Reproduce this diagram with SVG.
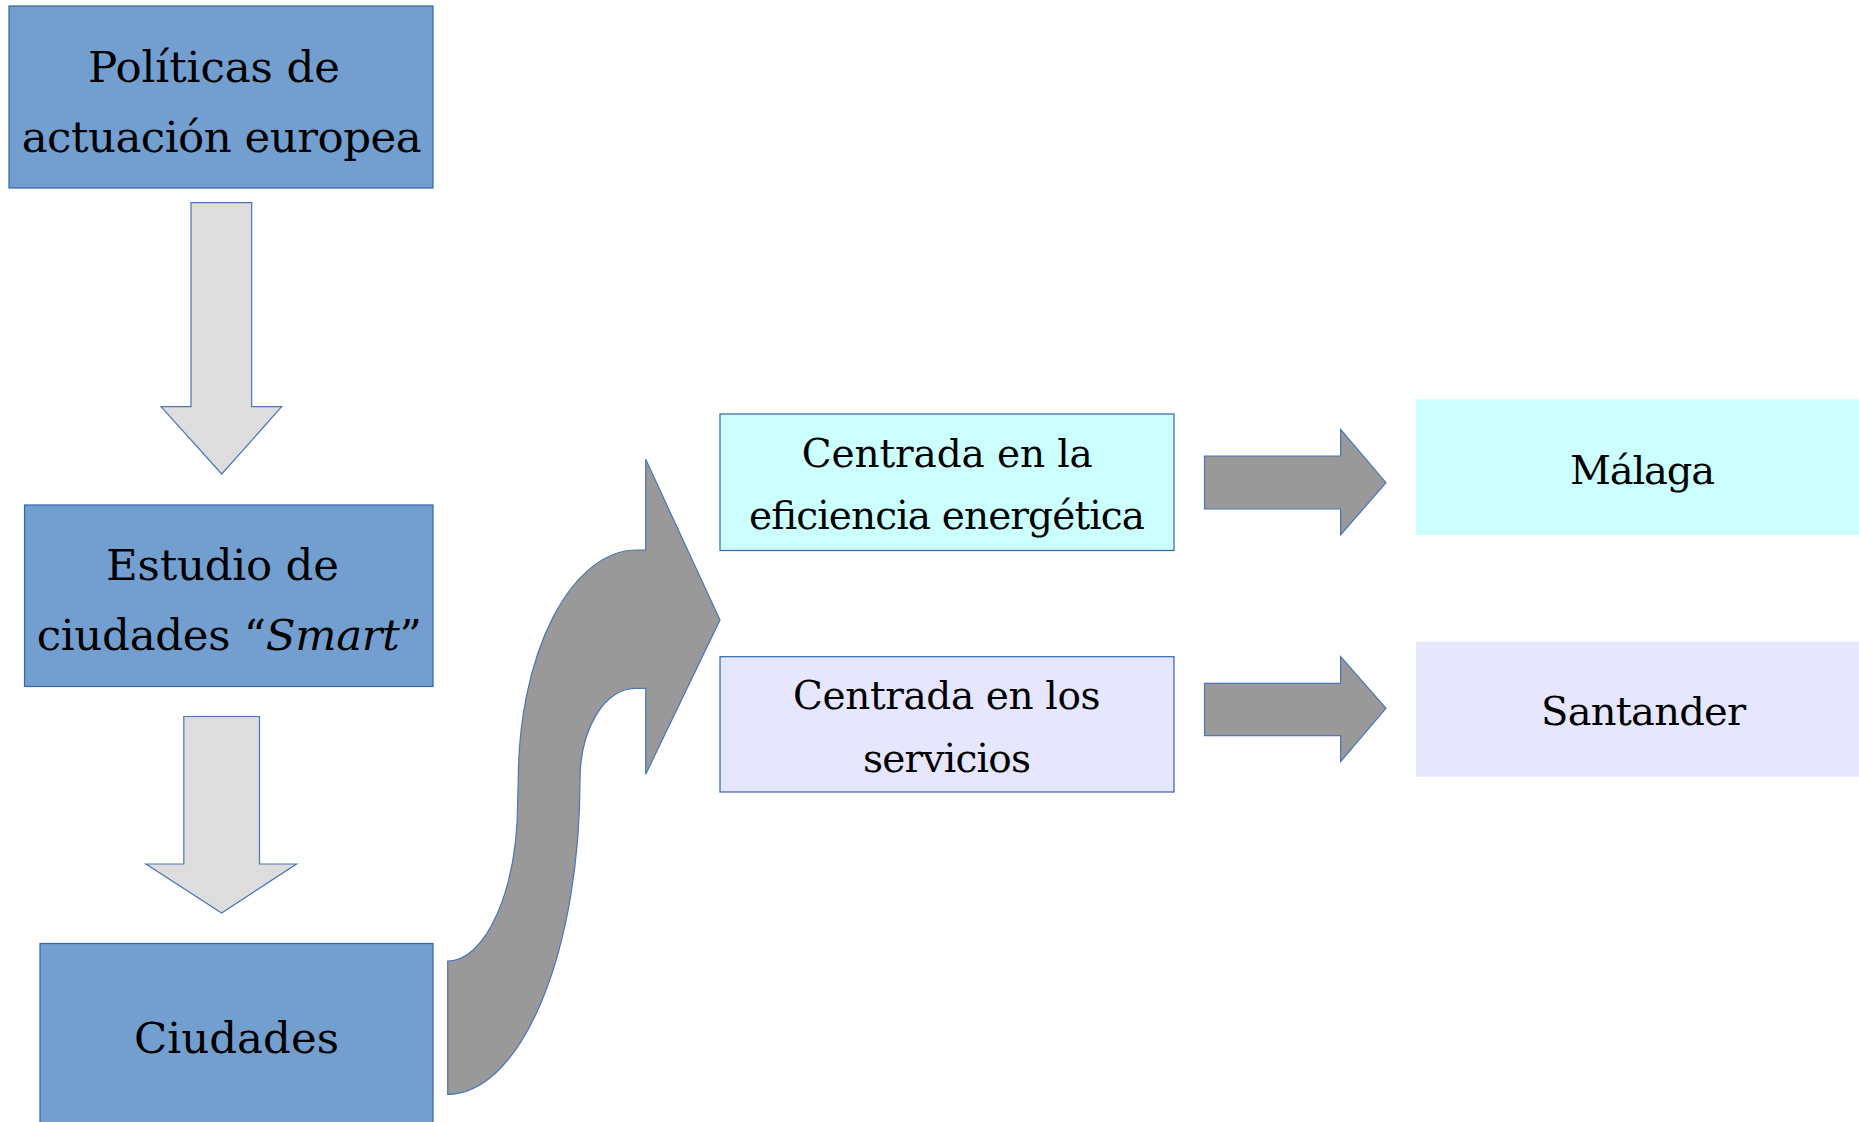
<svg xmlns="http://www.w3.org/2000/svg" width="1859" height="1122" viewBox="0 0 1859 1122">
<style>
  .blue { fill: #729fcf; stroke: #3465a4; stroke-width: 1.2; }
  .cyan { fill: #ccffff; stroke: #3465a4; stroke-width: 1.2; }
  .lav { fill: #e6e6ff; stroke: #3465a4; stroke-width: 1.2; }
  .cyanN { fill: #ccffff; }
  .lavN { fill: #e6e6ff; }
  .light { fill: #dddddd; stroke: #4a76b5; stroke-width: 1.2; }
  .dark { fill: #999999; stroke: #4a76b5; stroke-width: 1.2; }
  text { font-family: "DejaVu Serif", "Liberation Serif", serif; fill: #000000; }
  .big { font-size: 43.5px; }
  .mid { font-size: 39px; }
  .city { font-size: 40px; }
</style>
<rect width="1859" height="1122" fill="#ffffff"/>

<g id="n-politicas">
  <rect class="blue" x="9" y="6" width="424" height="182"/>
  <text class="big" x="88" y="82" textLength="252">Políticas de</text>
  <text class="big" x="21.7" y="152" textLength="400">actuación europea</text>
</g>

<g id="n-estudio">
  <rect class="blue" x="24.5" y="505" width="408.5" height="181.5"/>
  <text class="big" x="106" y="580" textLength="233">Estudio de</text>
  <text class="big" x="36.7" y="650" textLength="385">ciudades “<tspan font-style="italic">Smart</tspan>”</text>
</g>

<g id="n-ciudades">
  <rect class="blue" x="40" y="943.5" width="393" height="200"/>
  <text class="big" x="134" y="1053" textLength="205">Ciudades</text>
</g>

<g id="n-eficiencia">
  <rect class="cyan" x="720" y="414" width="454" height="136.5"/>
  <text class="mid" x="801.8" y="466.7" textLength="291">Centrada en la</text>
  <text class="mid" x="749" y="529" textLength="396">eficiencia energética</text>
</g>

<g id="n-servicios">
  <rect class="lav" x="720" y="656.7" width="454" height="135.3"/>
  <text class="mid" x="793" y="709" textLength="307.5">Centrada en los</text>
  <text class="mid" x="863" y="771.7" textLength="168">servicios</text>
</g>

<g id="n-malaga">
  <rect class="cyanN" x="1416" y="399.3" width="450" height="135.7"/>
  <text class="city" x="1570" y="484" textLength="145">Málaga</text>
</g>

<g id="n-santander">
  <rect class="lavN" x="1416" y="641.7" width="450" height="135"/>
  <text class="city" x="1541" y="725" textLength="205">Santander</text>
</g>

<g id="connectors">
  <polygon class="light" points="191,202.7 251.7,202.7 251.7,406.7 281.7,406.7 221.7,474 161,406.7 191,406.7"/>
  <polygon class="light" points="183.8,716.5 259.5,716.5 259.5,864 296.5,864 221.6,913 146,864 183.8,864"/>
  <path class="dark" d="M 447.7 961 A 70 161 0 0 0 517.7 800 L 518.3 780 A 118.4 230 0 0 1 636.7 550 L 645.7 550 L 645.7 459.3 L 720 620 L 645.7 774.3 L 645.7 688.3 L 635 688.3 A 55 91.7 0 0 0 580 780 A 132.3 314.3 0 0 1 447.7 1094.3 Z"/>
  <polygon class="dark" points="1204.5,456 1340.6,456 1340.6,429.3 1386,482.7 1340.6,535 1340.6,509 1204.5,509"/>
  <polygon class="dark" points="1204.5,683.3 1340.6,683.3 1340.6,656.7 1386,708.3 1340.6,761.7 1340.6,735.7 1204.5,735.7"/>
</g>
</svg>
